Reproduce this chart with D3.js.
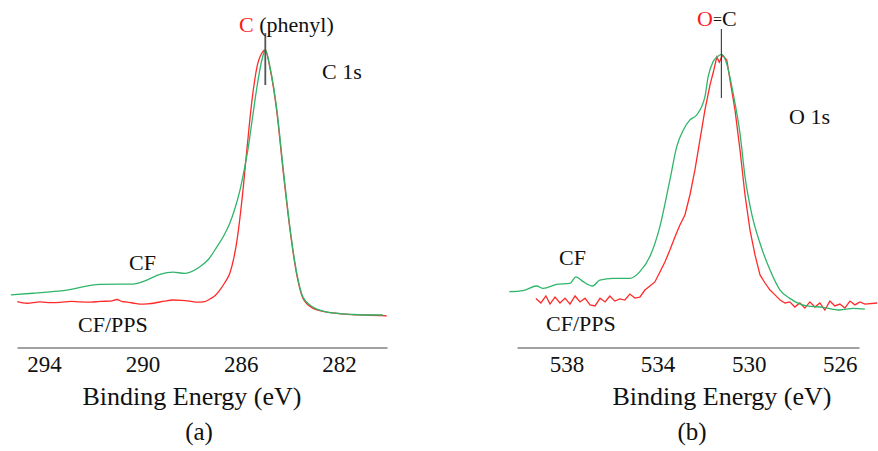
<!DOCTYPE html>
<html>
<head>
<meta charset="utf-8">
<script src="https://cdn.jsdelivr.net/npm/d3@7"></script>
<style>
  body { margin: 0; background: #fff; }
  svg, svg text { font-family: "Liberation Serif", "Times New Roman", Times, "DejaVu Serif", serif !important; }
</style>
</head>
<body>
<svg id="chart" width="878" height="451"></svg>
<script>
// ---- Panel (a): C 1s ----
const c1sTicks = [294, 290, 286, 282];
const c1sCF = [
  [295.35, 9.3], [294.45, 9.9], [293.07, 11.1], [291.72, 13.2], [290.38, 13.3],
  [289.98, 14.2], [289.28, 16.9], [288.76, 17.7], [288.27, 17.3], [287.66, 19.7],
  [287.3, 22.6], [286.97, 27.1], [286.7, 31.0], [286.44, 35.9], [286.23, 41.5], [286.03, 48.1],
  [285.86, 55.5], [285.71, 63], [285.52, 75], [285.34, 86.3], [285.14, 96.3], [285.0, 100],
  [284.81, 93.7], [284.53, 77.8], [284.28, 56.7], [284.0, 34.4], [283.72, 17.4],
  [283.47, 8.5], [283.07, 4.8], [282.65, 3.3], [282.25, 2.6], [281.5, 2.1], [280.87, 1.85], [280.22, 1.85]
];
const c1sPPS = [
  [295.09, 6.8], [294.7, 6.2], [294.16, 6.7], [293.7, 6.4], [293.35, 6.5], [292.9, 6.9],
  [292.54, 6.7], [292.1, 6.6], [291.72, 6.9], [291.3, 7.0], [291.03, 7.6], [290.85, 6.9],
  [290.7, 6.7], [290.4, 6.3], [290.1, 5.9], [289.8, 6.0], [289.49, 6.3], [289.1, 7.0],
  [288.76, 7.4], [288.4, 7.3], [288.07, 7.0], [287.75, 6.6], [287.46, 6.8], [287.25, 7.8],
  [287.05, 9.0], [286.85, 11.1], [286.65, 13.8], [286.44, 17.4], [286.28, 23], [286.15, 29.6],
  [285.95, 44.4], [285.75, 63], [285.54, 81.5], [285.34, 93.7], [285.14, 98.9], [285.0, 100],
  [284.81, 93.3], [284.53, 77], [284.28, 55.6], [284.0, 33.7], [283.72, 16.7],
  [283.47, 8.1], [283.07, 4.4], [282.65, 3.2], [282.25, 2.6], [281.5, 2.0], [280.87, 1.85], [280.06, 1.5]
];

// ---- Panel (b): O 1s ----
const o1sTicks = [538, 534, 530, 526];
const o1sCF = [
  [540.52, 10.5], [539.91, 10.9], [539.32, 12.6], [539.03, 11.7], [538.44, 13.2],
  [537.85, 13.6], [537.59, 16.0], [537.27, 14.2], [536.86, 12.6], [536.54, 14.8],
  [535.95, 15.4], [535.22, 15.4], [534.78, 17.9], [534.34, 23.5], [533.9, 34.6],
  [533.46, 51.9], [533.16, 64.2], [532.87, 70.4], [532.58, 74.1], [532.29, 75.9],
  [531.92, 82.7], [531.78, 90.1], [531.56, 95.7], [531.38, 97.5], [531.19, 98.4],
  [530.97, 95.1], [530.68, 83.9], [530.38, 69.1], [530.16, 53.1], [529.87, 39.5],
  [529.5, 28.4], [529.06, 18.5], [528.62, 11.1], [528.19, 8.0], [527.45, 5.2],
  [526.72, 4.7], [525.99, 3.7], [525.4, 4.3], [524.89, 4.0]
];
const o1sPPS = [
  [539.35, 8.0], [539.13, 6.3], [538.91, 8.9], [538.73, 5.9], [538.51, 8.5],
  [538.29, 6.3], [538.07, 8.1], [537.85, 5.9], [537.63, 8.9], [537.41, 6.7],
  [537.19, 8.1], [536.97, 5.6], [536.75, 5.2], [536.53, 8.1], [536.31, 6.7],
  [536.1, 8.9], [535.88, 7.0], [535.66, 7.8], [535.44, 7.4], [535.22, 9.6],
  [535.0, 8.1], [534.78, 8.5], [534.56, 11.1], [534.34, 12.6], [534.12, 14.1],
  [533.9, 17.8], [533.68, 21.5], [533.46, 25.9], [533.24, 30.7], [533.02, 35.2],
  [532.8, 38.9], [532.58, 46.3], [532.36, 55.6], [532.14, 66.7], [531.92, 77.8],
  [531.7, 87.0], [531.53, 92.6], [531.4, 97.4], [531.29, 95.5], [531.15, 98.1],
  [530.96, 96.3], [530.82, 88.9], [530.6, 77.8], [530.38, 63], [530.16, 46.3],
  [529.94, 33.3], [529.72, 24.1], [529.5, 16.7], [529.28, 13.7], [529.06, 11.1],
  [528.84, 9.3], [528.62, 7.4], [528.4, 6.3], [528.19, 6.7], [527.97, 4.8],
  [527.75, 6.3], [527.53, 4.4], [527.31, 6.7], [527.09, 4.8], [526.87, 6.3],
  [526.65, 3.7], [526.43, 7.0], [526.21, 5.2], [525.99, 5.9], [525.77, 4.4],
  [525.55, 7.0], [525.33, 5.6], [525.11, 6.7], [524.89, 5.9], [524.35, 6.3]
];

const GREEN = "#2fb56a";
const RED = "#ff2a2a";
const FONT = "Liberation Serif";
const svg = d3.select("#chart");

function panel(cfg) {
  const x = d3.scaleLinear().domain(cfg.domain).range(cfg.range);
  const y = d3.scaleLinear().domain([0, 100]).range([320, 50]);
  const g = svg.append("g").attr("font-family", FONT);
  const mk = (curve) => d3.line().x(d => x(d[0])).y(d => y(d[1])).curve(curve);

  g.append("path").datum(cfg.pps).attr("d", mk(cfg.ppsCurve))
    .attr("fill", "none").attr("stroke", RED).attr("stroke-width", 1.3);
  g.append("path").datum(cfg.cf).attr("d", mk(d3.curveMonotoneX))
    .attr("fill", "none").attr("stroke", GREEN).attr("stroke-width", 1.3);

  const axis = d3.axisBottom(x).tickValues(cfg.ticks).tickSize(0).tickPadding(8).tickFormat(d3.format("d"));
  const ag = g.append("g").attr("transform", "translate(0,347.5)").call(axis);
  ag.attr("font-family", FONT);
  ag.select(".domain").attr("stroke", "#444").attr("stroke-width", 1.2);
  ag.selectAll("text").attr("font-size", 23).attr("fill", "#111");

  g.append("text").attr("x", cfg.titleX).attr("y", 405).attr("text-anchor", "middle")
    .attr("font-size", 26).attr("fill", "#111").text("Binding Energy (eV)");
  g.append("text").attr("x", cfg.capX).attr("y", 440).attr("text-anchor", "middle")
    .attr("font-size", 25).attr("fill", "#111").text(cfg.cap);

  // peak marker
  g.append("line").attr("x1", x(cfg.peak)).attr("x2", x(cfg.peak))
    .attr("y1", cfg.markY[0]).attr("y2", cfg.markY[1])
    .attr("stroke", cfg.markColor).attr("stroke-width", cfg.markW);
  return { x, y, g };
}

const a = panel({ domain: [295.1, 280.05], range: [17, 387], ticks: c1sTicks, cf: c1sCF, pps: c1sPPS,
  ppsCurve: d3.curveMonotoneX,
  titleX: 192, capX: 199, cap: "(a)", peak: 285.0, markY: [33, 85], markColor: "#555", markW: 1.8 });
const b = panel({ domain: [540.18, 525.15], range: [517, 859], ticks: o1sTicks, cf: o1sCF, pps: o1sPPS,
  ppsCurve: d3.curveLinear,
  titleX: 722, capX: 692, cap: "(b)", peak: 531.2, markY: [29, 98], markColor: "#222", markW: 1 });

// annotations panel (a)
const ta = a.g.append("text").attr("x", 239).attr("y", 32).attr("font-size", 22).attr("fill", "#111");
ta.append("tspan").attr("fill", "#ff1a1a").text("C");
ta.append("tspan").text(" (phenyl)");
a.g.append("text").attr("x", 322).attr("y", 79).attr("font-size", 22).attr("fill", "#111").text("C 1s");
a.g.append("text").attr("x", 129).attr("y", 270).attr("font-size", 22).attr("fill", "#111").text("CF");
a.g.append("text").attr("x", 78).attr("y", 332).attr("font-size", 22).attr("fill", "#111").text("CF/PPS");

// annotations panel (b)
const tb = b.g.append("text").attr("x", 697).attr("y", 26).attr("font-size", 22).attr("fill", "#111");
tb.append("tspan").attr("fill", "#ff1a1a").text("O");
tb.append("tspan").attr("font-size", 16).attr("dy", -1).text("=");
tb.append("tspan").attr("dy", 1).text("C");
b.g.append("text").attr("x", 789).attr("y", 124).attr("font-size", 22).attr("fill", "#111").text("O 1s");
b.g.append("text").attr("x", 559).attr("y", 265).attr("font-size", 22).attr("fill", "#111").text("CF");
b.g.append("text").attr("x", 546).attr("y", 331).attr("font-size", 22).attr("fill", "#111").text("CF/PPS");
</script>
</body>
</html>
